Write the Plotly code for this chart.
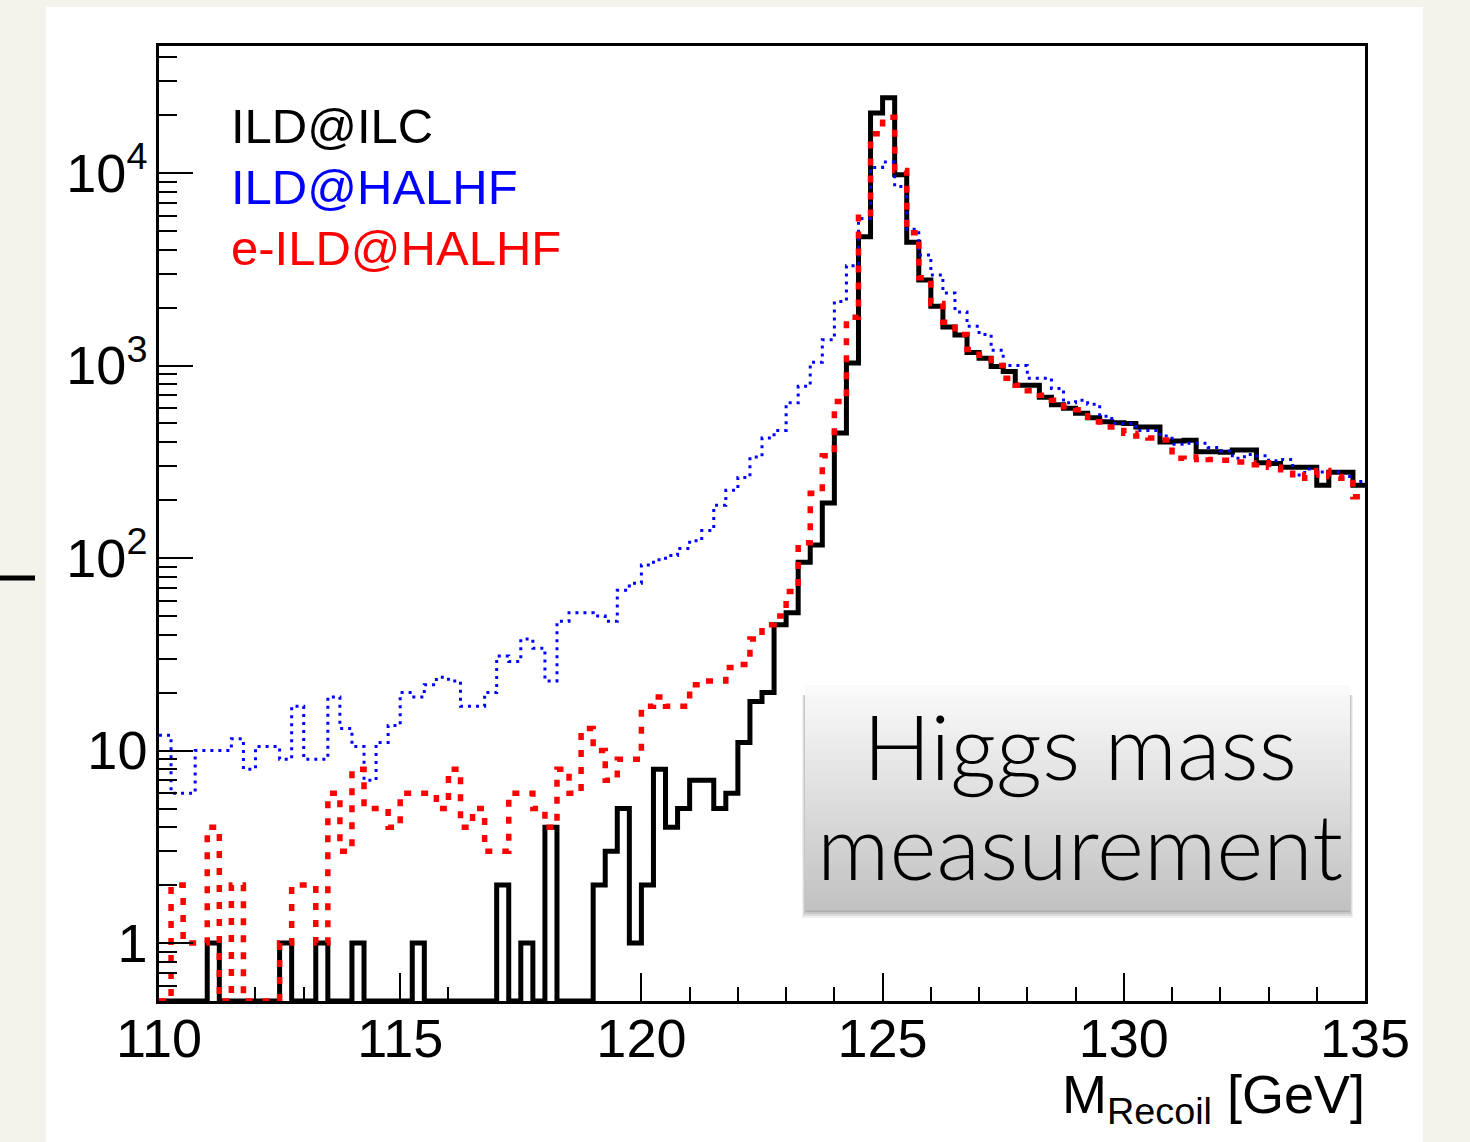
import numpy as np
import plotly.graph_objects as go

# ---------------- data ----------------
X_MIN, X_MAX, N_BINS = 110.0, 135.0, 100   # M_recoil histogram binning (0.25 GeV)

ild_ilc = [0, 0, 0, 0, 1, 0, 0, 0, 0, 0,
           1, 0, 0, 1, 0, 0, 1, 0, 0, 0,
           0, 1, 0, 0, 0, 0, 0, 0, 2, 0,
           1, 0, 4, 0, 0, 0, 2, 3, 5, 1,
           2, 8, 4, 5, 7, 7, 5, 6, 11, 18,
           20, 45, 52, 95, 117, 193, 446, 1030, 4660, 20500,
           24600, 9800, 4370, 2780, 2030, 1585, 1440, 1170, 1090, 990,
           930, 790, 790, 685, 625, 600, 565, 535, 510, 505,
           500, 480, 480, 401, 405, 409, 357, 357, 354, 364,
           364, 313, 310, 296, 296, 296, 239, 279, 279, 239]

ild_halhf = [12, 6, 6, 10, 10, 10, 11.5, 8, 10.5, 10.5,
             9, 17, 9, 9, 19, 13, 10.5, 7, 11, 13.5,
             20, 19, 22, 24, 23, 17, 17, 20, 31, 29,
             38, 34, 23, 47, 52, 52, 50, 47, 68, 74,
             92, 98, 103, 112, 123, 139, 188, 225, 262, 335,
             420, 460, 640, 780, 1040, 1360, 2150, 3300, 5800, 10700,
             11400, 8500, 5100, 3750, 2950, 2380, 1900, 1600, 1450, 1200,
             1000, 1000, 860, 860, 760, 640, 660, 630, 545, 500,
             500, 460, 460, 430, 390, 395, 395, 375, 360, 330,
             345, 340, 320, 325, 270, 290, 280, 280, 265, 250]

e_ild_halhf = [0, 2, 1, 1, 4, 0, 2, 0, 0, 0,
               1, 2, 2, 1, 6, 3, 8, 5, 5, 4,
               6, 6, 6, 5, 8, 4, 5, 3, 3, 6,
               6, 5, 4, 8, 6, 13, 10, 7, 9, 9,
               17, 19, 17, 17, 22, 23, 23, 27, 28, 38,
               45, 50, 67, 120, 217, 340, 650, 1780, 5900, 16000,
               19500, 10300, 4900, 2860, 2100, 1680, 1450, 1210, 1130, 1000,
               860, 790, 740, 700, 660, 610, 590, 510, 480, 460,
               445, 430, 420, 410, 330, 325, 335, 325, 322, 315,
               305, 313, 296, 276, 260, 270, 285, 265, 260, 208]

legend_labels = ["ILD@ILC", "ILD@HALHF", "e-ILD@HALHF"]
box_lines = ["Higgs mass", "measurement"]
x_ticks = [110, 115, 120, 125, 130, 135]
y_ticks = [1, 10, 100, 1000, 10000]
y_tick_text = ["1", "10", "10<sup>2</sup>", "10<sup>3</sup>", "10<sup>4</sup>"]

# ---------------- layout geometry ----------------
W, H = 1470, 1142
L, R, T, B = 159, 1365, 46, 1001
Y_MIN, Y_MAX = 0.5, 45700.0


def px(x):
    return (x - L) / (R - L)


def py(y):
    return (B - y) / (B - T)


edges = np.linspace(X_MIN, X_MAX, N_BINS + 1)


def hist_xy(vals):
    v = [max(a, Y_MIN) for a in vals]  # empty bins drawn on the frame floor (ROOT style)
    return list(edges), v + [v[-1]]


FONT = "Liberation Sans, Arial, Helvetica, sans-serif"

fig = go.Figure()
styles = [
    dict(color="black", width=5, dash="solid"),
    dict(color="#0000ff", width=3, dash="3px,5px"),
    dict(color="#ff0000", width=5.5, dash="7px,10px"),
]
for vals, st, name in zip([ild_ilc, ild_halhf, e_ild_halhf], styles, legend_labels):
    xx, yy = hist_xy(vals)
    fig.add_trace(go.Scatter(x=xx, y=yy, mode="lines", line_shape="hv",
                             line=st, name=name, showlegend=False,
                             hoverinfo="skip"))

minor_vals = [m * 10 ** k for k in range(-1, 5) for m in range(2, 10)]

fig.update_layout(
    width=W, height=H,
    margin=dict(l=L, r=W - R, t=T, b=H - B, pad=0),
    paper_bgcolor="#f3f3ec",
    plot_bgcolor="white",
    font=dict(family=FONT, color="black", size=54),
    xaxis=dict(range=[X_MIN, X_MAX], showgrid=False, zeroline=False,
               showline=True, linecolor="black", linewidth=2.5, mirror=True,
               ticks="inside", ticklen=28, tickwidth=2, tickcolor="black",
               tickvals=x_ticks, ticktext=[str(t) for t in x_ticks],
               tickfont=dict(size=54, family=FONT),
               minor=dict(ticks="inside", ticklen=14, tickwidth=2, tickcolor="black",
                          dtick=1, showgrid=False),
               ticklabelstandoff=-12),
    yaxis=dict(type="log", range=[np.log10(Y_MIN), np.log10(Y_MAX)],
               showgrid=False, zeroline=False,
               showline=True, linecolor="black", linewidth=2.5, mirror=True,
               ticks="inside", ticklen=34, tickwidth=2, tickcolor="black",
               tickvals=y_ticks, ticktext=y_tick_text,
               tickfont=dict(size=54, family=FONT),
               minor=dict(ticks="inside", ticklen=18, tickwidth=2, tickcolor="black",
                          tickvals=minor_vals, showgrid=False),
               ticklabelstandoff=-2),
)

shapes = []
# white panel on beige page
shapes.append(dict(type="rect", xref="paper", yref="paper",
                   x0=px(46), x1=px(1423), y0=py(1150), y1=py(7),
                   fillcolor="white", line=dict(width=0), layer="below"))
# stray black dash on the left margin
shapes.append(dict(type="line", xref="paper", yref="paper",
                   x0=px(0), x1=px(35), y0=py(578), y1=py(578),
                   line=dict(color="black", width=5)))

# text box with soft bottom shadow and vertical gradient
bx0, bx1, by0, by1 = 805, 1350, 685, 910
for k, a in enumerate([0.06, 0.08, 0.10, 0.12]):
    shapes.append(dict(type="rect", xref="paper", yref="paper",
                       x0=px(bx0 - 3 + k), x1=px(bx1 + 3 - k),
                       y0=py(by1 + 8 - 2 * k), y1=py(by0 + 10),
                       fillcolor=f"rgba(0,0,0,{a})", line=dict(width=0)))
nb = 45
for i in range(nb):
    t = i / (nb - 1)
    c = int(round(250 - t * (250 - 194)))
    y_top = by0 + (by1 - by0) * i / nb
    y_bot = by0 + (by1 - by0) * (i + 1) / nb
    shapes.append(dict(type="rect", xref="paper", yref="paper",
                       x0=px(bx0), x1=px(bx1), y0=py(y_bot + 0.5), y1=py(y_top),
                       fillcolor=f"rgb({c},{c},{c})", line=dict(width=0)))
fig.update_layout(shapes=shapes)

annotations = []
leg_colors = ["black", "#0000ff", "#ff0000"]
leg_y = [126, 187, 248]
for lab, col, yy in zip(legend_labels, leg_colors, leg_y):
    annotations.append(dict(text=lab, xref="paper", yref="paper",
                            x=px(229), y=py(yy), xanchor="left", yanchor="middle",
                            showarrow=False, font=dict(size=49, color=col, family=FONT)))
for txt, yc in zip(box_lines, [745, 845]):
    annotations.append(dict(text=txt, xref="paper", yref="paper",
                            x=px((bx0 + bx1) / 2 + 2), y=py(yc), xanchor="center",
                            yanchor="middle", showarrow=False, align="center",
                            font=dict(size=90, color="black",
                                      family="Lato Light, Roboto Light, Lato, sans-serif",
                                      weight=300)))
annotations.append(dict(text="M<sub>Recoil</sub> [GeV]", xref="paper", yref="paper",
                        x=px(1367), y=py(1098), xanchor="right", yanchor="middle",
                        showarrow=False, font=dict(size=54, color="black", family=FONT)))
fig.update_layout(annotations=annotations)

fig.write_html("out.html")
